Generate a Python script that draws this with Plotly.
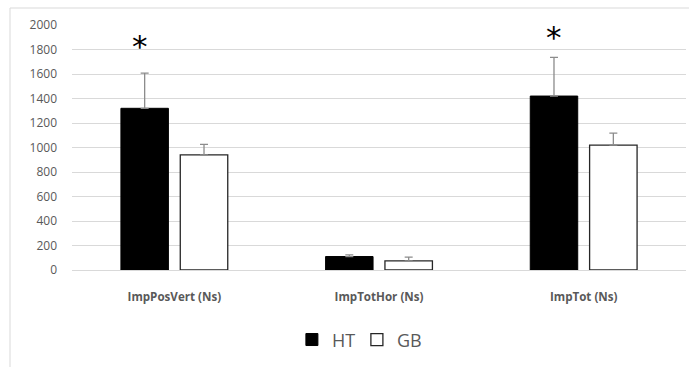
import plotly.graph_objects as go

# Impulse measures per group (N·s)
categories = ["ImpPosVert (Ns)", "ImpTotHor (Ns)", "ImpTot (Ns)"]
ht_mean = [1320, 110, 1420]
ht_sd = [287, 14, 315]
gb_mean = [940, 75, 1020]
gb_sd = [85, 30, 98]
y_ticks = [0, 200, 400, 600, 800, 1000, 1200, 1400, 1600, 1800, 2000]

W, H = 689, 367
M_L, M_R, M_T, M_B = 72, 3, 25, 97
plot_w = W - M_L - M_R
plot_h = H - M_T - M_B

grey_txt = "#595959"

fig = go.Figure()
fig.add_trace(go.Bar(
    name="HT", x=categories, y=ht_mean,
    marker=dict(color="#000000", line=dict(color="#000000", width=1)),
    error_y=dict(type="data", array=ht_sd, symmetric=False, arrayminus=[0] * 3,
                 color="#8c8c8c", thickness=1.3, width=4),
))
fig.add_trace(go.Bar(
    name="GB", x=categories, y=gb_mean,
    marker=dict(color="#ffffff", line=dict(color="#262626", width=1.3)),
    error_y=dict(type="data", array=gb_sd, symmetric=False, arrayminus=[0] * 3,
                 color="#8c8c8c", thickness=1.3, width=4),
))

# significance stars above the HT bars
for cat, ystar, xs in [(categories[0], 1875, -5), (categories[2], 1950, 0)]:
    fig.add_annotation(x=cat, y=ystar, text="*", showarrow=False, xshift=xs - 29.5,
                       yanchor="middle", yshift=-6,
                       font=dict(family="DejaVu Sans", size=31, color="#000000"))

# chart-area frame (left and top edges)
fx0 = (10 - M_L) / plot_w
fy1 = (H - M_B - 8) / plot_h
fig.add_shape(type="line", xref="paper", yref="paper", x0=fx0, x1=fx0,
              y0=-(H - M_B) / plot_h, y1=fy1, line=dict(color="#d9d9d9", width=1))
fig.add_shape(type="line", xref="paper", yref="paper", x0=fx0, x1=(W - M_L) / plot_w,
              y0=fy1, y1=fy1, line=dict(color="#d9d9d9", width=1))

fig.update_layout(
    width=W, height=H,
    margin=dict(l=M_L, r=M_R, t=M_T, b=M_B),
    paper_bgcolor="#ffffff", plot_bgcolor="#ffffff",
    barmode="group", bargap=0.42, bargroupgap=0.2,
    showlegend=True,
    legend=dict(orientation="h", x=0.464, xanchor="center", y=-0.285, yanchor="middle",
                font=dict(family="Open Sans", size=18, color=grey_txt),
                itemwidth=30, entrywidth=20, entrywidthmode="pixels",
                traceorder="normal"),
    xaxis=dict(showline=False, ticks="", ticklabelstandoff=18,
               tickfont=dict(family="Open Sans", size=11.6, color=grey_txt, weight="bold")),
    yaxis=dict(range=[0, 2000], tickvals=y_ticks, showgrid=True,
               gridcolor="#d9d9d9", gridwidth=1, zeroline=True, zerolinecolor="#d9d9d9",
               zerolinewidth=1, showline=False, ticks="", ticklabelstandoff=14,
               tickfont=dict(family="Open Sans", size=12, color=grey_txt)),
)

fig.write_html("out.html")
